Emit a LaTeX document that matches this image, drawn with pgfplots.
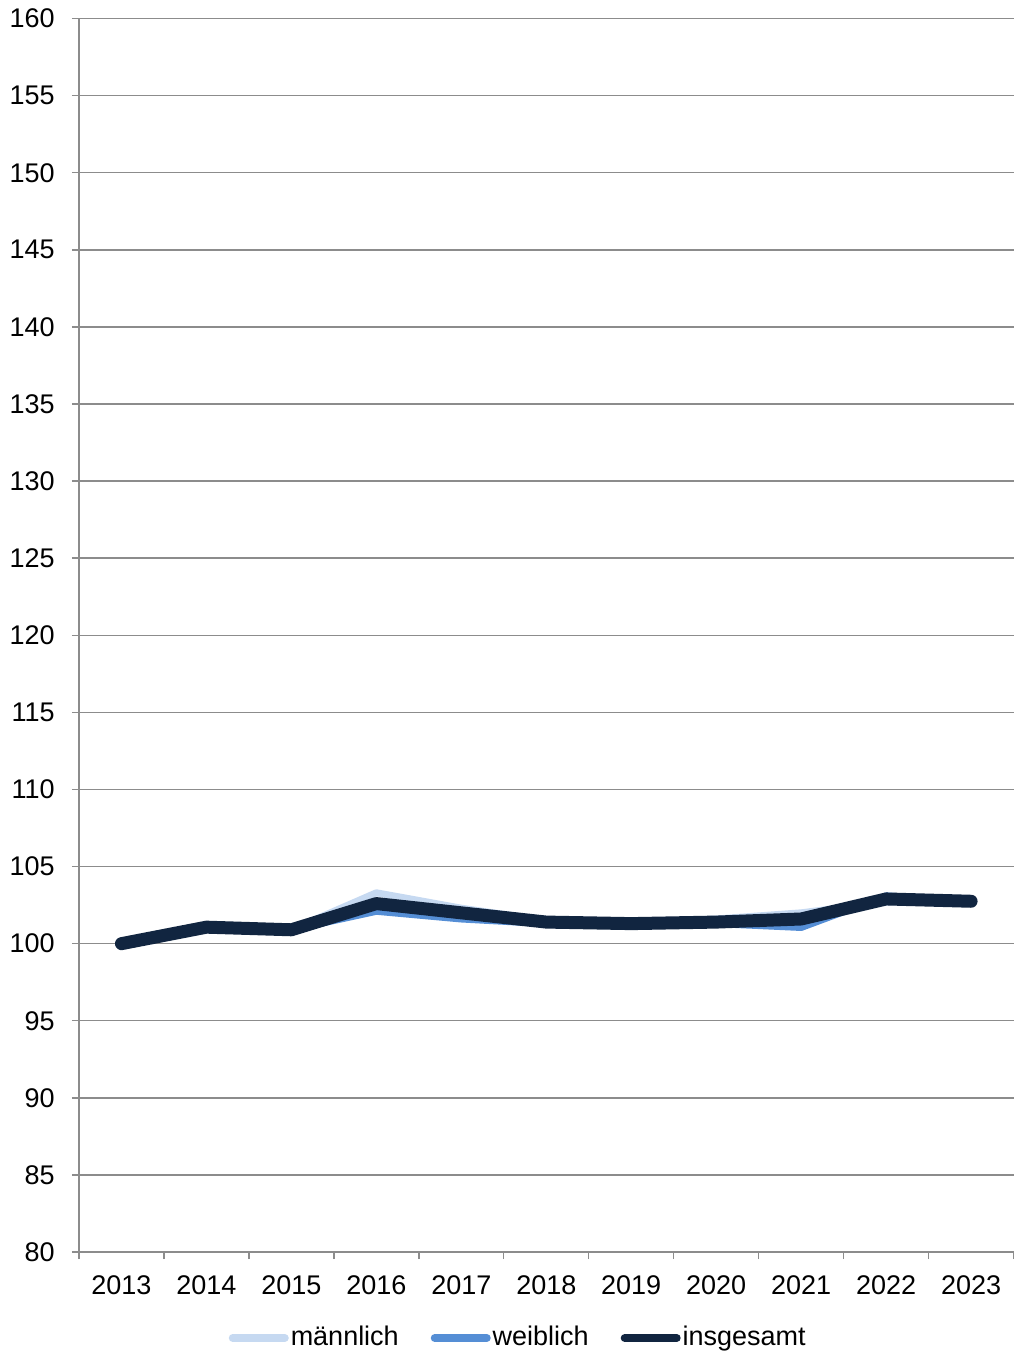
\documentclass[border=0pt]{standalone}
\usepackage{pgfplots}
\pgfplotsset{compat=1.18}
\usepackage{fontspec}
\setmainfont{Liberation Sans}
\definecolor{cmaen}{RGB}{198,217,241}
\definecolor{cweib}{RGB}{85,142,213}
\definecolor{cinsg}{RGB}{17,37,64}
\definecolor{gridc}{RGB}{140,140,140}
\begin{document}
\begin{tikzpicture}
\fontsize{13.5bp}{16bp}\selectfont
\begin{axis}[
  scale only axis,
  width=467.5bp, height=617bp,
  xmin=-0.5, xmax=10.5, ymin=80, ymax=160,
  axis lines=left, axis line style={-, draw=gridc, line width=0.7bp},
  xtick={-0.5,0.5,...,10.5},
  xticklabels={},
  extra x ticks={0,...,10},
  extra x tick labels={2013,2014,2015,2016,2017,2018,2019,2020,2021,2022,2023},
  extra x tick style={major tick length=0bp, grid=none},
  ytick={80,85,...,160},
  ymajorgrids, grid style={draw=gridc, line width=0.7bp},
  tick style={draw=gridc, line width=0.7bp},
  tick align=outside, major tick length=3.5bp,
  /pgf/number format/assume math mode=true,
  ticklabel style={font=\fontsize{13.5bp}{16bp}\selectfont, text=black},
  xticklabel style={yshift=-7bp},
  yticklabel style={xshift=-4bp},
  legend style={at={(0.47,-43bp)}, anchor=center, draw=none, legend columns=3,
    font=\fontsize{13.5bp}{16bp}\selectfont, column sep=0bp,
    /tikz/every even column/.append style={column sep=15bp}, inner sep=0pt,
    nodes={inner sep=1bp}},
  legend cell align=left,
  legend image code/.code={\draw[#1, line cap=round, line width=4bp] (2bp,0bp) -- (28bp,0bp);},
  clip=false,
]
\addplot[color=cmaen, line width=3.5bp, line join=round, line cap=round] coordinates {
(0,100) (1,101.1) (2,100.9) (3,103.3) (4,102.3) (5,101.5) (6,101.35) (7,101.6) (8,102.0) (9,102.7) (10,102.75)};
\addlegendentry{männlich}
\addplot[color=cweib, line width=3.5bp, line join=round, line cap=round] coordinates {
(0,100) (1,101.05) (2,100.9) (3,102.1) (4,101.6) (5,101.3) (6,101.25) (7,101.3) (8,101.05) (9,103.1) (10,102.75)};
\addlegendentry{weiblich}
\addplot[color=cinsg, line width=6.5bp, line join=round, line cap=round] coordinates {
(0,100) (1,101.07) (2,100.9) (3,102.6) (4,102.0) (5,101.4) (6,101.3) (7,101.4) (8,101.6) (9,102.9) (10,102.75)};
\addlegendentry{insgesamt}
\end{axis}
\path[use as bounding box] (-39.5bp,-50bp) rectangle (467.5bp,626bp);
\end{tikzpicture}
\end{document}
